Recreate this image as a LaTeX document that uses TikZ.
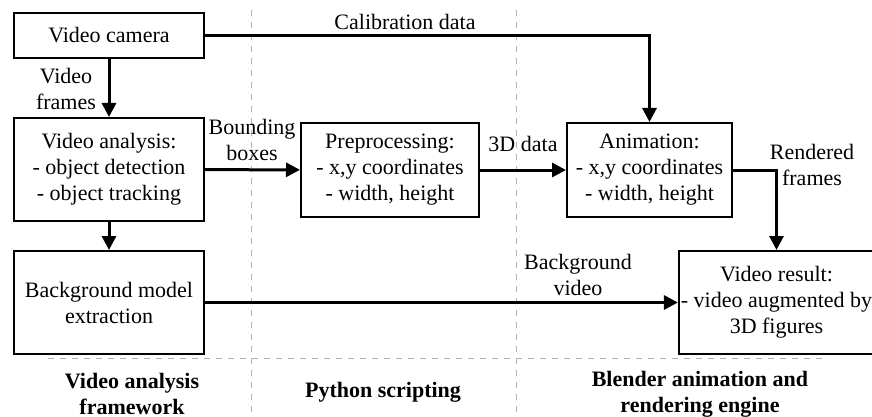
\documentclass[tikz,border=0pt]{standalone}
\usepackage{fontspec}
\setmainfont{Liberation Serif}
\usetikzlibrary{arrows.meta}
\tikzset{
box/.style={draw,line width=1pt,align=center,inner sep=1pt,minimum width=#1},
flow/.style={line width=1.5pt,-{Triangle[length=7pt,width=7pt]}},
sep/.style={draw=gray!60,dashed,line width=0.5pt},
lbl/.style={align=center},
part/.style={align=center,font=\fontsize{11}{13}\selectfont\bfseries}
}
\begin{document}
\begin{tikzpicture}[x=0.5pt,y=-0.5pt,font=\fontsize{11}{13}\selectfont]
\useasboundingbox (0,0) rectangle (872,417);
\foreach \x in {251,516}
{
\draw[sep] (\x,10) -- (\x,417);
}
\draw[sep] (48,358) -- (828,358);

\node[box=95pt,minimum height=22.5pt] (cam) at (109,35.5) {Video camera};
\node[box=95pt,minimum height=51.5pt] (ana) at (109,169.5) {Video analysis:\\- object detection\\- object tracking};
\node[box=95pt,minimum height=51.5pt] (bg) at (109,302.5) {Background model\\extraction};
\node[box=89pt,minimum height=47pt] (pre) at (390,170) {Preprocessing:\\- x,y coordinates\\- width, height};
\node[box=82.5pt,minimum height=47pt] (anim) at (649.5,170) {Animation:\\- x,y coordinates\\- width, height};
\node[box=93pt,minimum height=51.5pt] (res) at (776.5,302.5) {Video result:\\- video augmented by\\3D figures};

\draw[flow] (cam) -- (ana);
\draw[flow] (ana) -- (bg);
\draw[flow] (cam.east) -| (anim.north);
\draw[flow] (ana) -- (pre);
\draw[flow] (pre) -- (anim);
\draw[flow] (anim.east) -| (res.north);
\draw[flow] (bg.east) -- (bg.east -| res.west);

\node[lbl] (calib) at (405,22) {Calibration data};
\node[lbl] (frames) at (66,89) {Video\\frames};
\node[lbl] (bbox) at (252,140) {Bounding\\boxes};
\node[lbl] (data3d) at (523,144) {3D data};
\node[lbl] (rend) at (812,165) {Rendered\\frames};
\node[lbl] (bgvid) at (578,275) {Background\\video};

\node[part] (p1) at (132,394) {Video analysis\\framework};
\node[part] (p2) at (383,392) {Python scripting};
\node[part] (p3) at (700,394) {Blender animation and\\rendering engine};
\end{tikzpicture}
\end{document}
